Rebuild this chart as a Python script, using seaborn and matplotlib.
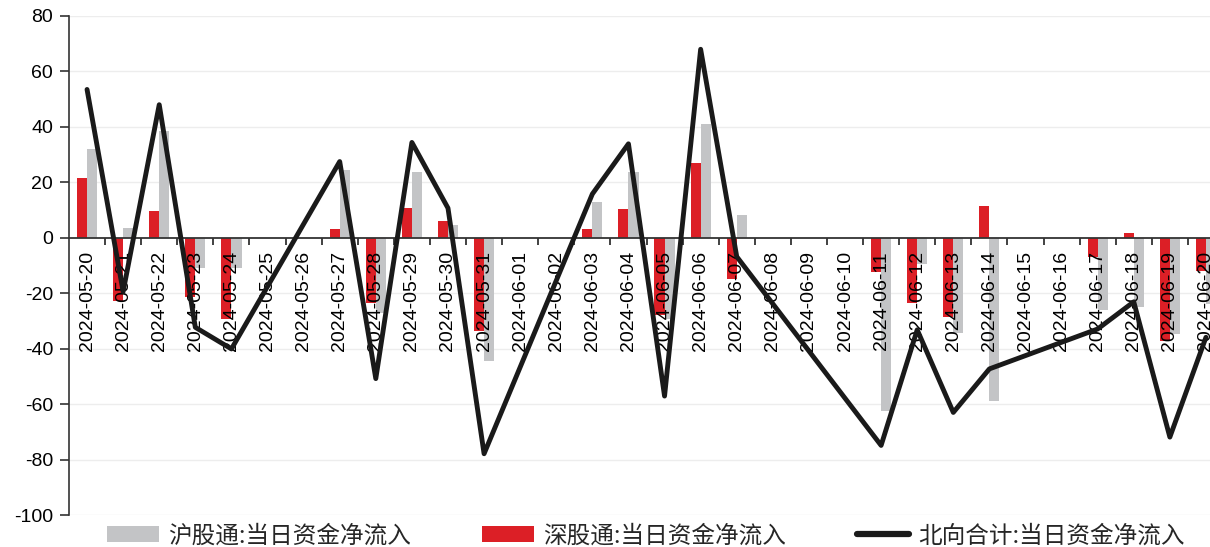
import numpy as np
import pandas as pd
import matplotlib
matplotlib.use("Agg")
import matplotlib.pyplot as plt
import seaborn as sns
from matplotlib.patches import Patch
from matplotlib.lines import Line2D
from matplotlib.ticker import FixedLocator

# Calendar days shown on the category axis (weekends/holidays left empty)
dates = pd.date_range("2024-05-20", "2024-06-20").strftime("%Y-%m-%d").tolist()

# Trading days with Stock Connect northbound flows (亿元)
trade_days = [
    "2024-05-20", "2024-05-21", "2024-05-22", "2024-05-23", "2024-05-24",
    "2024-05-27", "2024-05-28", "2024-05-29", "2024-05-30", "2024-05-31",
    "2024-06-03", "2024-06-04", "2024-06-05", "2024-06-06", "2024-06-07",
    "2024-06-11", "2024-06-12", "2024-06-13", "2024-06-14",
    "2024-06-17", "2024-06-18", "2024-06-19", "2024-06-20",
]
sh_flow = [31.9, 3.4, 38.4, -11.0, -10.8,
           24.4, -27.2, 23.8, 4.6, -44.4,
           12.8, 23.6, -29.2, 41.0, 8.2,
           -62.4, -9.6, -34.5, -58.8,
           -26.1, -24.9, -34.8, -24.0]
sz_flow = [21.6, -22.8, 9.6, -21.3, -29.3,
           3.1, -23.6, 10.6, 6.1, -33.5,
           3.0, 10.3, -27.9, 27.0, -15.0,
           -12.5, -23.6, -28.5, 11.5,
           -6.8, 1.8, -37.1, -11.9]
north_total = [53.5, -19.4, 48.0, -32.3, -40.1,
               27.5, -50.8, 34.4, 10.7, -77.9,
               15.8, 33.9, -57.1, 68.0, -6.8,
               -74.9, -33.2, -63.0, -47.3,
               -32.9, -23.1, -71.9, -35.9]

y_ticks = list(range(-100, 81, 20))

SH_LABEL = "沪股通:当日资金净流入"
SZ_LABEL = "深股通:当日资金净流入"
NB_LABEL = "北向合计:当日资金净流入"

RED = "#DC1F26"
GRAY = "#C3C4C6"
BLACK = "#1A1A1A"
AXIS = "#333333"

sns.set_theme(style="white")
plt.rcParams["font.family"] = ["Liberation Sans", "Noto Sans CJK SC"]
plt.rcParams["axes.unicode_minus"] = False

W, H = 1210, 547
fig = plt.figure(figsize=(W / 100, H / 100), dpi=100)
ax = fig.add_axes([69 / W, 1 - 515 / H, 1155 / W, (515 - 16) / H])

n = len(trade_days)
bars = pd.DataFrame({
    "date": trade_days * 2,
    "value": sz_flow + sh_flow,
    "series": [SZ_LABEL] * n + [SH_LABEL] * n,
})
sns.barplot(data=bars, x="date", y="value", hue="series", order=dates,
            hue_order=[SZ_LABEL, SH_LABEL],
            palette={SZ_LABEL: RED, SH_LABEL: GRAY}, saturation=1,
            width=0.56, errorbar=None, linewidth=0, legend=False, ax=ax)

sns.lineplot(x=trade_days, y=north_total, sort=False, color=BLACK,
             linewidth=3.5, legend=False, ax=ax)

ax.set_xlim(-0.5, len(dates) - 0.5)
ax.set_ylim(-100, 80)
ax.set_xlabel("")
ax.set_ylabel("")

# faint horizontal guides behind the bars
ax.grid(False)
for t in y_ticks:
    if t != 0:
        ax.axhline(t, color="#EDEDED", linewidth=1.0, zorder=0.5)

# axis (ticks + date labels) sits above bars but below the total line
ax.set_axisbelow("line")

# y axis
ax.set_yticks(y_ticks)
ax.set_yticklabels([str(t) for t in y_ticks])
ax.tick_params(axis="y", which="major", direction="out", length=6.5,
               width=1.2, color=AXIS, pad=5, labelsize=14, labelcolor="black",
               left=True)

# x axis drawn at zero, separators between days
ax.set_xticks(range(len(dates)))
ax.set_xticklabels(dates)
ax.xaxis.set_minor_locator(FixedLocator(np.arange(0.5, len(dates), 1.0)))
ax.tick_params(axis="x", which="major", length=0, pad=9.5, labelsize=14,
               labelcolor="black", bottom=True, labelrotation=90)
ax.tick_params(axis="x", which="minor", direction="out", length=5,
               width=1.3, color=AXIS, bottom=True)
for lbl in ax.get_xticklabels():
    lbl.set_rotation(90)
    lbl.set_verticalalignment("top")
    lbl.set_horizontalalignment("center")

for s in ("top", "right"):
    ax.spines[s].set_visible(False)
ax.spines["left"].set_color(AXIS)
ax.spines["left"].set_linewidth(1.2)
ax.spines["bottom"].set_position(("data", 0))
ax.spines["bottom"].set_color(AXIS)
ax.spines["bottom"].set_linewidth(1.3)
ax.spines["bottom"].set_zorder(1.6)

handles = [
    Patch(facecolor=GRAY, edgecolor="none"),
    Patch(facecolor=RED, edgecolor="none"),
    Line2D([], [], color=BLACK, linewidth=4.5, solid_capstyle="round"),
]
fig.legend(handles, [SH_LABEL, SZ_LABEL, NB_LABEL], loc="center",
           bbox_to_anchor=(646 / W, 1 - 536 / H), ncol=3, frameon=False,
           handlelength=2.2, handleheight=0.65, handletextpad=0.4,
           columnspacing=3.0,
           prop={"family": ["Noto Sans CJK SC"], "size": 17})

fig.savefig("out.png", dpi=100)
